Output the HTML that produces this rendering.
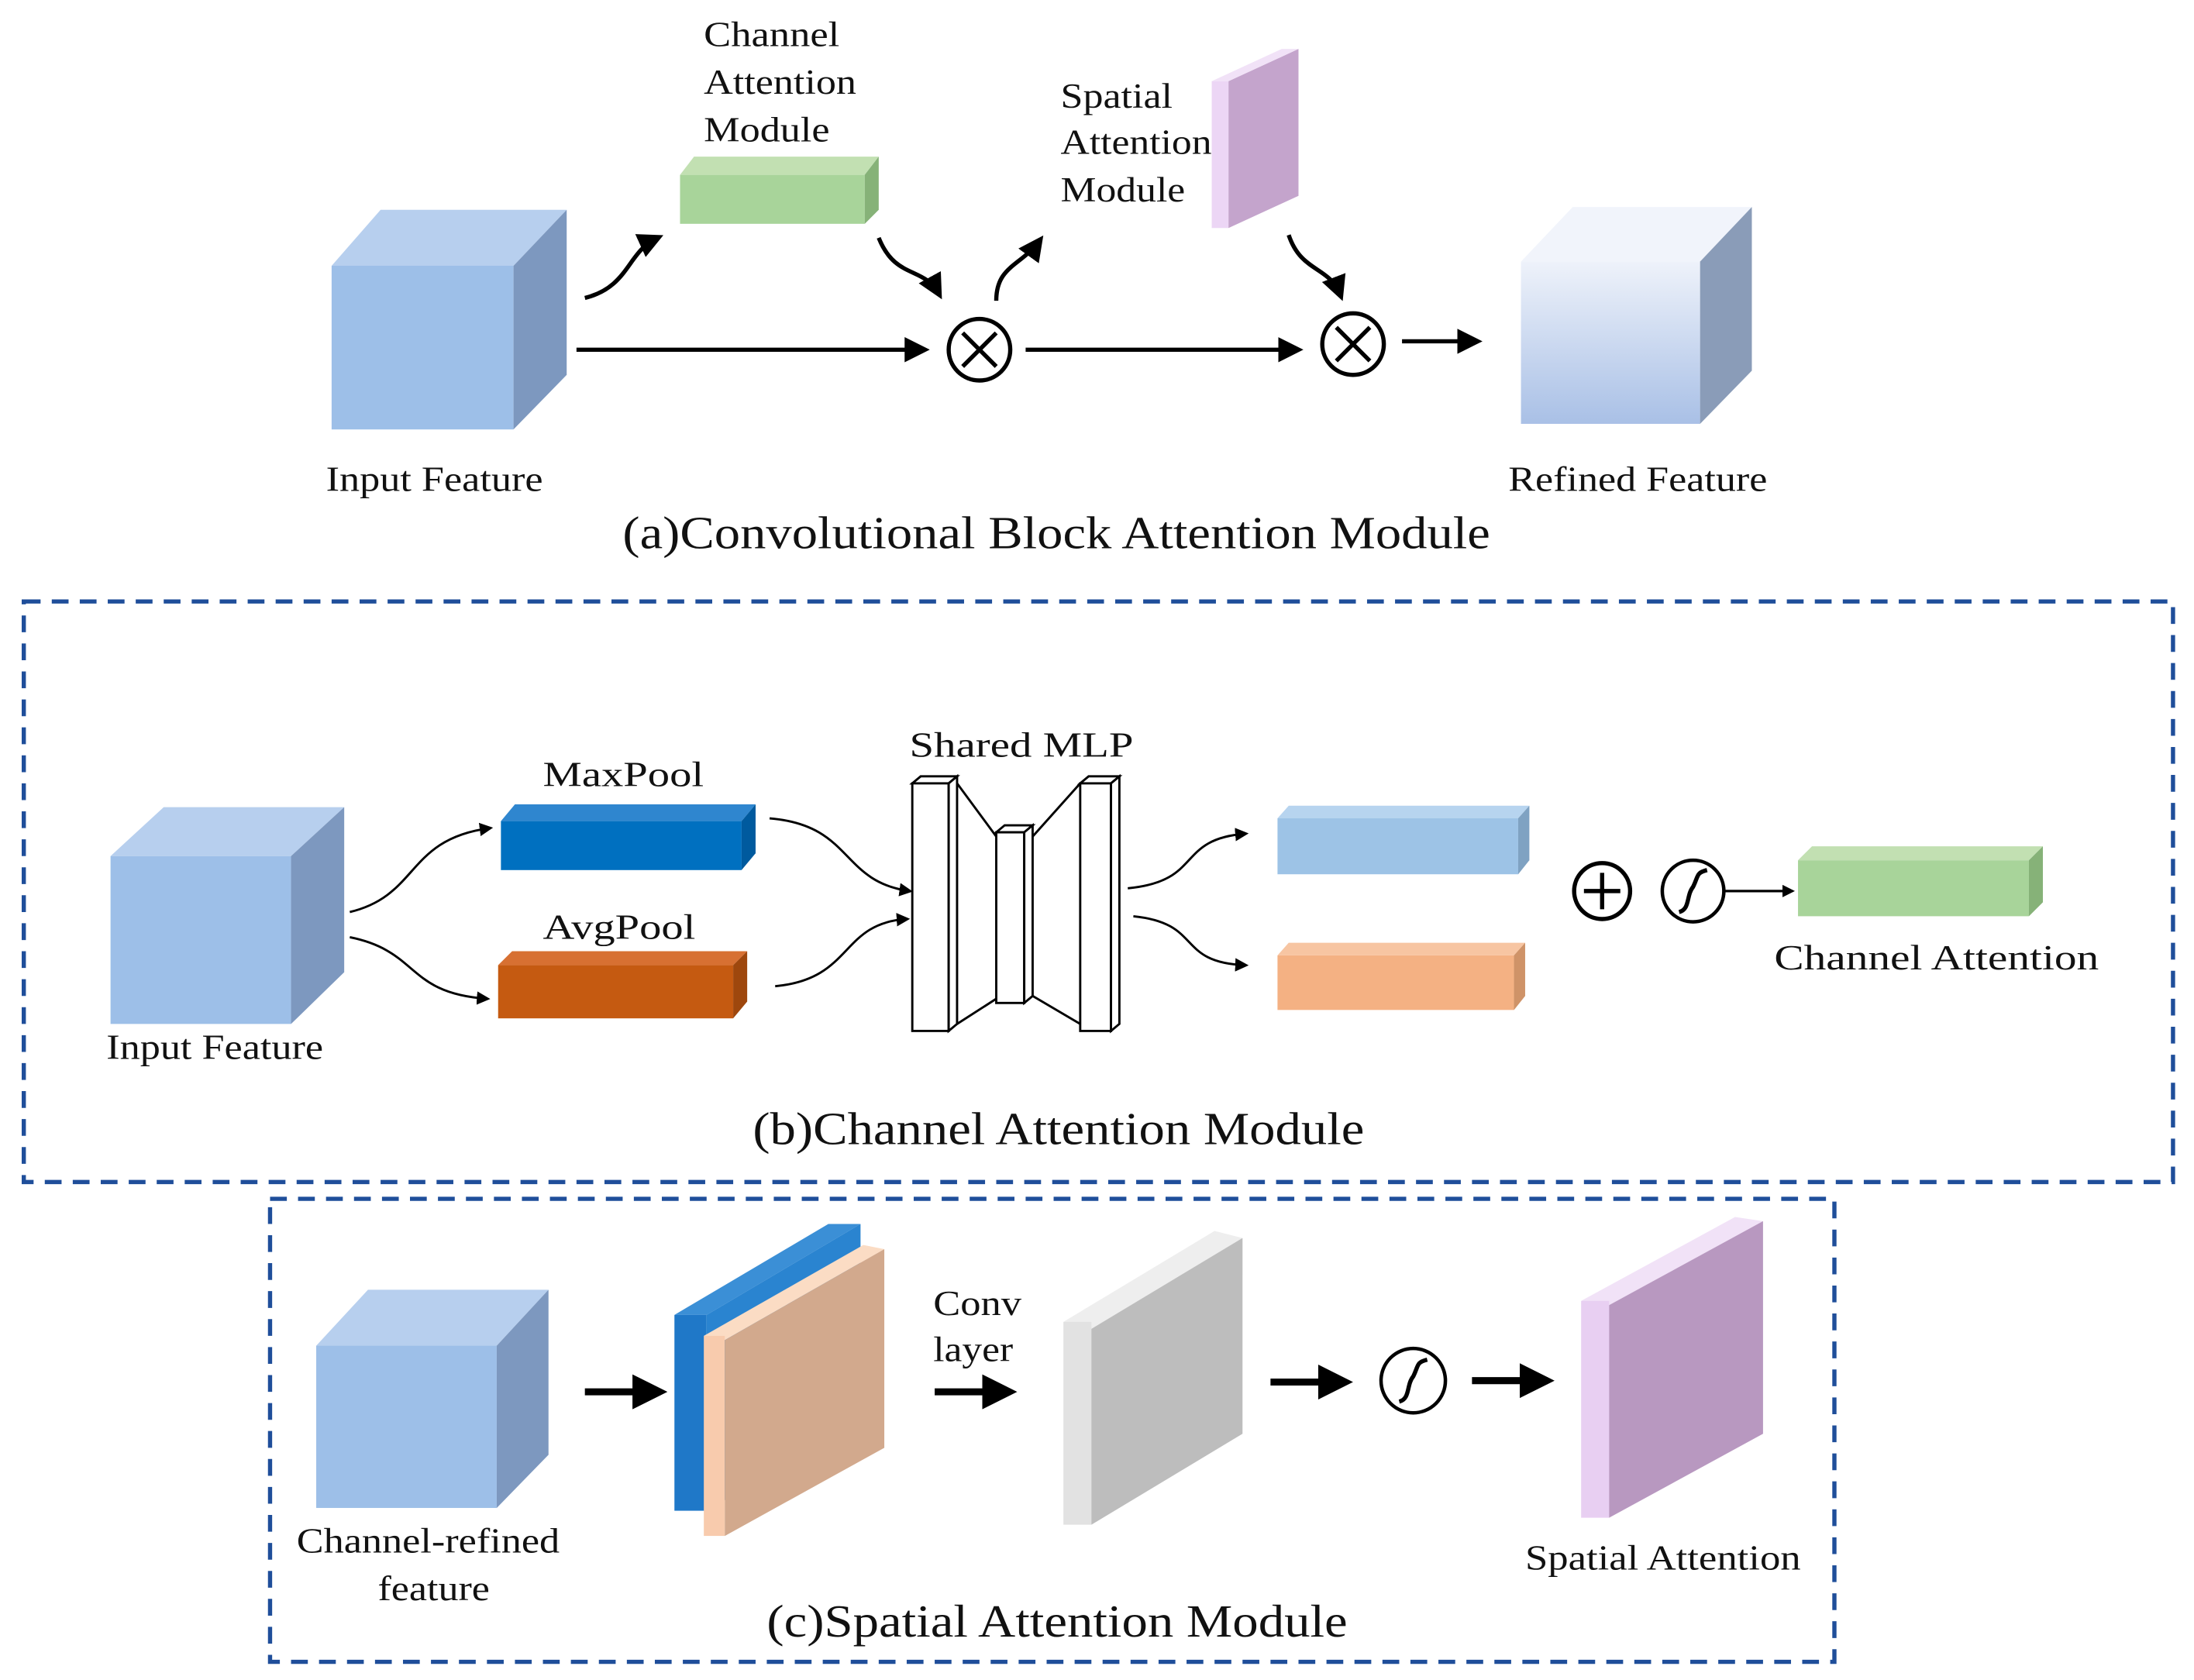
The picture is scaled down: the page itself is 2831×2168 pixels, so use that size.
<!DOCTYPE html>
<html><head><meta charset="utf-8"><style>
html,body{margin:0;padding:0;background:#fff;}
svg{display:block;}
text{font-family:"Liberation Serif",serif;fill:#111;}
</style></head><body>
<svg width="2831" height="2168" viewBox="0 0 1568 1201" preserveAspectRatio="none" xmlns="http://www.w3.org/2000/svg">
<defs>
<marker id="ah" markerWidth="6" markerHeight="6" refX="4.5" refY="3" orient="auto" markerUnits="strokeWidth"><path d="M0,0 L6,3 L0,6 Z" fill="#000"/></marker>
<marker id="ah2" markerWidth="5" markerHeight="5" refX="4" refY="2.5" orient="auto" markerUnits="strokeWidth"><path d="M0,0 L5,2.5 L0,5 Z" fill="#000"/></marker>
<linearGradient id="ref" x1="0" y1="0" x2="0" y2="1"><stop offset="0" stop-color="#eef2fa"/><stop offset="1" stop-color="#a9c0e6"/></linearGradient>
</defs>
<!-- (a) -->
<polygon points="237,190 272,150 405,150 367,190" fill="#b7cfee"/>
<rect x="237" y="190" width="130" height="117" fill="#9dbfe8"/>
<polygon points="367,190 405,150 405,268 367,307" fill="#7d98bf"/>
<polygon points="486,125 496,112 628,112 618,125" fill="#c2e0b2"/>
<rect x="486" y="125" width="132" height="35" fill="#a8d49a"/>
<polygon points="618,125 628,112 628,150 618,160" fill="#86b278"/>
<rect x="866" y="58" width="12" height="105" fill="#ecd6f5"/>
<polygon points="878,58 928,35 928,140 878,163" fill="#c4a4cc"/>
<polygon points="866,58 916,35 928,35 878,58" fill="#f1e2f7"/>
<line x1="412" y1="250" x2="660" y2="250" stroke="#000" stroke-width="3" marker-end="url(#ah)"/>
<circle cx="700" cy="250" r="22" fill="#fff" stroke="#000" stroke-width="3"/>
<path d="M688,238 L712,262 M712,238 L688,262" stroke="#000" stroke-width="3"/>
<line x1="733" y1="250" x2="927" y2="250" stroke="#000" stroke-width="3" marker-end="url(#ah)"/>
<circle cx="967" cy="246" r="22" fill="#fff" stroke="#000" stroke-width="3"/>
<path d="M955,234 L979,258 M979,234 L955,258" stroke="#000" stroke-width="3"/>
<line x1="1002" y1="244" x2="1055" y2="244" stroke="#000" stroke-width="3" marker-end="url(#ah)"/>
<polygon points="1087,187 1124,148 1252,148 1215,187" fill="#f1f4fb"/>
<rect x="1087" y="187" width="128" height="116" fill="url(#ref)"/>
<polygon points="1215,187 1252,148 1252,265 1215,303" fill="#8a9cb8"/>
<path d="M418,213 C450,205 448,180 470,170" fill="none" stroke="#000" stroke-width="3" marker-end="url(#ah)"/>
<path d="M628,170 C640,200 660,190 671,210" fill="none" stroke="#000" stroke-width="3" marker-end="url(#ah)"/>
<path d="M712,215 C712,190 730,190 743,172" fill="none" stroke="#000" stroke-width="3" marker-end="url(#ah)"/>
<path d="M921,168 C930,195 950,190 958,211" fill="none" stroke="#000" stroke-width="3" marker-end="url(#ah)"/>
<g font-size="25" lengthAdjust="spacingAndGlyphs">
<text x="503" y="33" textLength="97" lengthAdjust="spacingAndGlyphs">Channel</text>
<text x="503" y="67" textLength="109" lengthAdjust="spacingAndGlyphs">Attention</text>
<text x="503" y="101" textLength="90" lengthAdjust="spacingAndGlyphs">Module</text>
<text x="758" y="77" textLength="80" lengthAdjust="spacingAndGlyphs">Spatial</text>
<text x="758" y="110" textLength="108" lengthAdjust="spacingAndGlyphs">Attention</text>
<text x="758" y="144" textLength="89" lengthAdjust="spacingAndGlyphs">Module</text>
<text x="233" y="351" textLength="155" lengthAdjust="spacingAndGlyphs">Input Feature</text>
<text x="1078" y="351" textLength="185" lengthAdjust="spacingAndGlyphs">Refined Feature</text>
</g>
<text x="445" y="392" font-size="33" textLength="620" lengthAdjust="spacingAndGlyphs">(a)Convolutional Block Attention Module</text>
<!-- (b) -->
<rect x="17" y="430" width="1536" height="415" fill="none" stroke="#1f4e9a" stroke-width="3" stroke-dasharray="12,8"/>
<polygon points="79,612 117,577 246,577 208,612" fill="#b7cfee"/>
<rect x="79" y="612" width="129" height="120" fill="#9dbfe8"/>
<polygon points="208,612 246,577 246,695 208,732" fill="#7d98bf"/>
<polygon points="358,587 368,575 540,575 530,587" fill="#2f86cf"/>
<rect x="358" y="587" width="172" height="35" fill="#0070c0"/>
<polygon points="530,587 540,575 540,610 530,622" fill="#005a9e"/>
<polygon points="356,690 366,680 534,680 524,690" fill="#d77032"/>
<rect x="356" y="690" width="168" height="38" fill="#c55a11"/>
<polygon points="524,690 534,680 534,716 524,728" fill="#9e470d"/>
<path d="M250,652 C300,640 290,600 350,592" fill="none" stroke="#000" stroke-width="1.6" marker-end="url(#ah)"/>
<path d="M250,670 C300,680 290,710 348,714" fill="none" stroke="#000" stroke-width="1.6" marker-end="url(#ah)"/>
<path d="M550,585 C610,590 600,630 650,637" fill="none" stroke="#000" stroke-width="1.6" marker-end="url(#ah)"/>
<path d="M554,705 C610,700 600,660 648,657" fill="none" stroke="#000" stroke-width="1.6" marker-end="url(#ah)"/>
<g fill="#fff" stroke="#000" stroke-width="1.6">
<polygon points="652,560 658,555 684,555 678,560"/><rect x="652" y="560" width="26" height="177"/><polygon points="678,560 684,555 684,732 678,737"/>
<polygon points="712,595 718,590 738,590 732,595"/><rect x="712" y="595" width="20" height="122"/><polygon points="732,595 738,590 738,712 732,717"/>
<polygon points="772,560 778,555 800,555 794,560"/><rect x="772" y="560" width="22" height="177"/><polygon points="794,560 800,555 800,732 794,737"/>
<path d="M684,560 L712,598 M684,732 L712,714 M738,598 L772,560 M738,712 L772,732" fill="none"/>
</g>
<path d="M806,635 C860,630 840,600 890,596" fill="none" stroke="#000" stroke-width="1.6" marker-end="url(#ah)"/>
<path d="M810,655 C860,660 840,688 890,690" fill="none" stroke="#000" stroke-width="1.6" marker-end="url(#ah)"/>
<polygon points="913,585 921,576 1093,576 1085,585" fill="#b7d4ef"/>
<rect x="913" y="585" width="172" height="40" fill="#9dc3e6"/>
<polygon points="1085,585 1093,576 1093,615 1085,625" fill="#7fa2c2"/>
<polygon points="913,683 921,674 1090,674 1082,683" fill="#f7c5a2"/>
<rect x="913" y="683" width="169" height="39" fill="#f4b183"/>
<polygon points="1082,683 1090,674 1090,712 1082,722" fill="#cf9368"/>
<circle cx="1145" cy="637" r="20" fill="#fff" stroke="#000" stroke-width="3"/>
<path d="M1145,624 V650 M1132,637 H1158" stroke="#000" stroke-width="3"/>
<circle cx="1210" cy="637" r="22" fill="#fff" stroke="#000" stroke-width="2.5"/>
<path d="M1200,652 C1208,650 1205,640 1210,634 C1214,626 1212,624 1220,622" fill="none" stroke="#000" stroke-width="3"/>
<line x1="1232" y1="637" x2="1281" y2="637" stroke="#000" stroke-width="1.8" marker-end="url(#ah2)"/>
<polygon points="1285,615 1295,605 1460,605 1450,615" fill="#c2e0b2"/>
<rect x="1285" y="615" width="165" height="40" fill="#a8d49a"/>
<polygon points="1450,615 1460,605 1460,645 1450,655" fill="#86b278"/>
<g font-size="25">
<text x="388" y="562" textLength="115" lengthAdjust="spacingAndGlyphs">MaxPool</text>
<text x="388" y="671" textLength="109" lengthAdjust="spacingAndGlyphs">AvgPool</text>
<text x="650" y="541" textLength="160" lengthAdjust="spacingAndGlyphs">Shared MLP</text>
<text x="1268" y="693" textLength="232" lengthAdjust="spacingAndGlyphs">Channel Attention</text>
<text x="76" y="757" textLength="155" lengthAdjust="spacingAndGlyphs">Input Feature</text>
</g>
<text x="538" y="818" font-size="33" textLength="437" lengthAdjust="spacingAndGlyphs">(b)Channel Attention Module</text>
<!-- (c) -->
<rect x="193" y="857" width="1118" height="331" fill="none" stroke="#1f4e9a" stroke-width="3" stroke-dasharray="12,8"/>
<polygon points="226,962 263,922 392,922 355,962" fill="#b7cfee"/>
<rect x="226" y="962" width="129" height="116" fill="#9dbfe8"/>
<polygon points="355,962 392,922 392,1040 355,1078" fill="#7d98bf"/>
<line x1="418" y1="995" x2="472" y2="995" stroke="#000" stroke-width="5" marker-end="url(#ah2)"/>
<polygon points="482,940 592,875 615,875 505,940" fill="#3b8fd6"/>
<rect x="482" y="940" width="23" height="140" fill="#1f78c8"/>
<polygon points="505,940 615,875 615,1015 505,1080" fill="#2a84d0"/>
<polygon points="503,955 617,890 632,893 518,958" fill="#fbdcc4"/>
<rect x="503" y="955" width="15" height="143" fill="#f8cbad"/>
<polygon points="518,958 632,893 632,1035 518,1098" fill="#d2a98d"/>
<line x1="668" y1="995" x2="722" y2="995" stroke="#000" stroke-width="5" marker-end="url(#ah2)"/>
<polygon points="760,945 868,880 888,885 780,950" fill="#eeeeee"/>
<rect x="760" y="945" width="20" height="145" fill="#e2e2e2"/>
<polygon points="780,950 888,885 888,1025 780,1090" fill="#bdbdbd"/>
<line x1="908" y1="988" x2="962" y2="988" stroke="#000" stroke-width="5" marker-end="url(#ah2)"/>
<circle cx="1010" cy="987" r="23" fill="#fff" stroke="#000" stroke-width="2.5"/>
<path d="M1000,1002 C1008,1000 1005,990 1010,984 C1014,976 1012,974 1020,972" fill="none" stroke="#000" stroke-width="3"/>
<line x1="1052" y1="987" x2="1106" y2="987" stroke="#000" stroke-width="5" marker-end="url(#ah2)"/>
<polygon points="1130,930 1240,870 1260,873 1150,933" fill="#f1e2f7"/>
<rect x="1130" y="930" width="20" height="155" fill="#e8cff2"/>
<polygon points="1150,933 1260,873 1260,1025 1150,1085" fill="#b898c0"/>
<g font-size="25">
<text x="667" y="940" textLength="63" lengthAdjust="spacingAndGlyphs">Conv</text>
<text x="667" y="973" textLength="57" lengthAdjust="spacingAndGlyphs">layer</text>
<text x="212" y="1110" textLength="188" lengthAdjust="spacingAndGlyphs">Channel-refined</text>
<text x="270" y="1144" textLength="80" lengthAdjust="spacingAndGlyphs">feature</text>
<text x="1090" y="1122" textLength="197" lengthAdjust="spacingAndGlyphs">Spatial Attention</text>
</g>
<text x="548" y="1170" font-size="33" textLength="415" lengthAdjust="spacingAndGlyphs">(c)Spatial Attention Module</text>
</svg>
</body></html>
